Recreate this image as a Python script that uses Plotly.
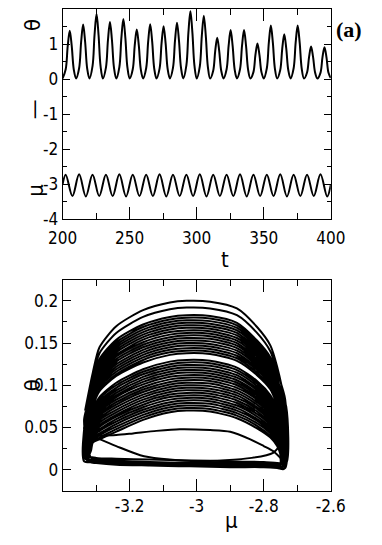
import plotly.graph_objects as go

# ---- top panel: theta(t) and mu(t) ----
CYCLE_STARTS = list(range(200, 400, 10))
THETA_OFFSETS = [0.0, 2.3, 3.8, 5.3, 6.8, 8.3]
# per cycle: trough, rise, rise, peak, fall, fall
THETA_CYCLES = [
    [0.02, 0.28, 0.94, 1.38, 0.94, 0.28],
    [0.02, 0.31, 1.06, 1.56, 1.06, 0.31],
    [0.02, 0.37, 1.26, 1.86, 1.26, 0.37],
    [0.02, 0.33, 1.11, 1.63, 1.11, 0.33],
    [0.02, 0.34, 1.17, 1.72, 1.17, 0.34],
    [0.02, 0.28, 0.97, 1.42, 0.97, 0.28],
    [0.02, 0.31, 1.07, 1.57, 1.07, 0.31],
    [0.02, 0.30, 1.03, 1.51, 1.03, 0.30],
    [0.02, 0.32, 1.09, 1.61, 1.09, 0.32],
    [0.02, 0.39, 1.32, 1.94, 1.32, 0.39],
    [0.02, 0.36, 1.23, 1.81, 1.23, 0.36],
    [0.02, 0.24, 0.80, 1.18, 0.80, 0.24],
    [0.02, 0.28, 0.95, 1.40, 0.95, 0.28],
    [0.02, 0.28, 0.95, 1.40, 0.95, 0.28],
    [0.02, 0.20, 0.69, 1.02, 0.69, 0.20],
    [0.02, 0.31, 1.04, 1.53, 1.04, 0.31],
    [0.02, 0.26, 0.87, 1.28, 0.87, 0.26],
    [0.02, 0.31, 1.04, 1.53, 1.04, 0.31],
    [0.02, 0.19, 0.63, 0.93, 0.63, 0.19],
    [0.02, 0.18, 0.62, 0.91, 0.62, 0.18],
]
THETA_END = (400, 0.03)

MU_START = (200, -3.00)
MU_FIRST_PEAK = 202.3
MU_PEAKS = [-2.73, -2.72, -2.73, -2.73, -2.72, -2.73, -2.73, -2.72, -2.73, -2.73,
            -2.72, -2.73, -2.73, -2.72, -2.73, -2.73, -2.72, -2.73, -2.73, -2.72]
MU_TROUGHS = [-3.34, -3.35, -3.34, -3.34, -3.35, -3.34, -3.34, -3.35, -3.34, -3.34,
              -3.35, -3.34, -3.34, -3.35, -3.34, -3.34, -3.35, -3.34, -3.34, -3.35]
MU_END = (400, -3.02)

# ---- bottom panel: theta vs mu, loop by loop ----
ARC_MU = [-3.31, -3.29, -3.24, -3.16, -3.08, -3.03, -2.96, -2.88, -2.82, -2.78, -2.76]
LEFT_MU = [-3.333, -3.327, -3.322, -3.318, -3.330, -3.324, -3.315, -3.336]
RIGHT_MU = [-2.742, -2.736, -2.748, -2.739, -2.733, -2.745, -2.751, -2.738]
LOOP_ROWS = [
    [0.070, 0.115, 0.145, 0.170, 0.189, 0.198, 0.200, 0.199, 0.191, 0.169, 0.147, 0.122, 0.087],
    [0.067, 0.110, 0.138, 0.162, 0.181, 0.190, 0.192, 0.191, 0.183, 0.162, 0.140, 0.116, 0.083],
    [0.064, 0.104, 0.131, 0.154, 0.172, 0.181, 0.183, 0.182, 0.174, 0.153, 0.133, 0.110, 0.078],
    [0.063, 0.102, 0.128, 0.151, 0.169, 0.178, 0.180, 0.179, 0.171, 0.151, 0.130, 0.108, 0.077],
    [0.062, 0.100, 0.126, 0.148, 0.166, 0.175, 0.177, 0.176, 0.168, 0.148, 0.128, 0.105, 0.075],
    [0.061, 0.098, 0.123, 0.145, 0.163, 0.172, 0.174, 0.173, 0.165, 0.145, 0.125, 0.103, 0.074],
    [0.060, 0.096, 0.121, 0.142, 0.160, 0.169, 0.171, 0.170, 0.162, 0.142, 0.123, 0.101, 0.072],
    [0.059, 0.095, 0.118, 0.139, 0.157, 0.166, 0.168, 0.167, 0.159, 0.140, 0.120, 0.099, 0.070],
    [0.057, 0.093, 0.116, 0.136, 0.154, 0.163, 0.165, 0.164, 0.156, 0.137, 0.118, 0.097, 0.069],
    [0.056, 0.091, 0.113, 0.134, 0.151, 0.160, 0.162, 0.161, 0.153, 0.134, 0.115, 0.095, 0.067],
    [0.055, 0.089, 0.111, 0.131, 0.148, 0.157, 0.159, 0.158, 0.150, 0.131, 0.113, 0.093, 0.066],
    [0.054, 0.087, 0.108, 0.128, 0.145, 0.154, 0.156, 0.155, 0.147, 0.129, 0.110, 0.090, 0.064],
    [0.053, 0.085, 0.106, 0.125, 0.142, 0.151, 0.153, 0.152, 0.144, 0.126, 0.108, 0.088, 0.063],
    [0.052, 0.083, 0.103, 0.122, 0.139, 0.148, 0.150, 0.149, 0.141, 0.123, 0.105, 0.086, 0.061],
    [0.051, 0.081, 0.101, 0.119, 0.136, 0.145, 0.147, 0.146, 0.138, 0.120, 0.103, 0.084, 0.059],
    [0.050, 0.079, 0.098, 0.116, 0.133, 0.142, 0.144, 0.143, 0.135, 0.118, 0.100, 0.082, 0.058],
    [0.049, 0.077, 0.095, 0.113, 0.130, 0.139, 0.141, 0.140, 0.132, 0.115, 0.097, 0.080, 0.056],
    [0.048, 0.075, 0.093, 0.111, 0.127, 0.136, 0.138, 0.137, 0.129, 0.112, 0.095, 0.077, 0.055],
    [0.045, 0.070, 0.086, 0.103, 0.119, 0.128, 0.130, 0.129, 0.121, 0.105, 0.088, 0.072, 0.051],
    [0.044, 0.068, 0.084, 0.100, 0.116, 0.125, 0.127, 0.126, 0.118, 0.102, 0.086, 0.069, 0.049],
    [0.043, 0.066, 0.081, 0.097, 0.113, 0.122, 0.124, 0.123, 0.115, 0.099, 0.083, 0.067, 0.048],
    [0.042, 0.064, 0.079, 0.094, 0.110, 0.119, 0.121, 0.120, 0.112, 0.096, 0.081, 0.065, 0.046],
    [0.041, 0.063, 0.076, 0.091, 0.107, 0.116, 0.118, 0.117, 0.109, 0.094, 0.078, 0.063, 0.044],
    [0.039, 0.061, 0.074, 0.088, 0.104, 0.113, 0.115, 0.114, 0.106, 0.091, 0.076, 0.061, 0.043],
    [0.038, 0.059, 0.071, 0.086, 0.101, 0.110, 0.112, 0.111, 0.103, 0.088, 0.073, 0.059, 0.041],
    [0.037, 0.057, 0.069, 0.083, 0.098, 0.107, 0.109, 0.108, 0.100, 0.085, 0.071, 0.057, 0.040],
    [0.036, 0.055, 0.066, 0.080, 0.095, 0.104, 0.106, 0.105, 0.097, 0.083, 0.068, 0.054, 0.038],
    [0.035, 0.053, 0.064, 0.077, 0.092, 0.101, 0.103, 0.102, 0.094, 0.080, 0.066, 0.052, 0.037],
    [0.034, 0.051, 0.061, 0.074, 0.089, 0.098, 0.100, 0.099, 0.091, 0.077, 0.063, 0.050, 0.035],
    [0.033, 0.049, 0.059, 0.071, 0.086, 0.095, 0.097, 0.096, 0.088, 0.074, 0.061, 0.048, 0.033],
    [0.032, 0.047, 0.056, 0.068, 0.083, 0.092, 0.094, 0.093, 0.085, 0.072, 0.058, 0.046, 0.032],
    [0.031, 0.045, 0.053, 0.065, 0.080, 0.089, 0.091, 0.090, 0.082, 0.069, 0.055, 0.044, 0.030],
    [0.030, 0.043, 0.051, 0.063, 0.077, 0.086, 0.088, 0.087, 0.079, 0.066, 0.053, 0.041, 0.029],
    [0.029, 0.041, 0.048, 0.060, 0.074, 0.083, 0.085, 0.084, 0.076, 0.063, 0.050, 0.039, 0.027],
    [0.028, 0.040, 0.046, 0.057, 0.071, 0.080, 0.082, 0.081, 0.073, 0.060, 0.048, 0.037, 0.026],
    [0.026, 0.038, 0.043, 0.054, 0.068, 0.077, 0.079, 0.078, 0.070, 0.058, 0.045, 0.035, 0.024],
    [0.025, 0.036, 0.041, 0.051, 0.065, 0.074, 0.076, 0.075, 0.067, 0.055, 0.043, 0.033, 0.023],
    [0.024, 0.034, 0.038, 0.048, 0.062, 0.071, 0.073, 0.072, 0.064, 0.052, 0.040, 0.031, 0.021],
    [0.023, 0.032, 0.036, 0.045, 0.059, 0.068, 0.070, 0.069, 0.061, 0.049, 0.038, 0.028, 0.019],
]
# return path along the bottom, right -> left (first value at right edge, last at left edge)
BOTTOM_MU = [-2.76, -2.80, -2.90, -3.02, -3.14, -3.24, -3.30]
BOTTOM_ROWS = [
    [0.004, 0.004, 0.005, 0.006, 0.006, 0.007, 0.009, 0.011, 0.013],
    [0.002, 0.003, 0.004, 0.004, 0.005, 0.006, 0.007, 0.009, 0.011],
    [0.006, 0.006, 0.007, 0.008, 0.008, 0.009, 0.011, 0.013, 0.016],
    [0.001, 0.002, 0.003, 0.003, 0.004, 0.005, 0.006, 0.008, 0.009],
    [0.008, 0.008, 0.009, 0.010, 0.011, 0.012, 0.013, 0.014, 0.017],
    [0.003, 0.004, 0.005, 0.005, 0.006, 0.007, 0.008, 0.010, 0.012],
    [0.005, 0.005, 0.006, 0.007, 0.007, 0.008, 0.010, 0.012, 0.014],
    [0.002, 0.003, 0.003, 0.004, 0.004, 0.005, 0.007, 0.009, 0.010],
]
# the single low loop and its raised return path
LONE_MU = [-3.30, -3.24, -3.19, -3.12, -3.05, -2.96, -2.90, -2.84, -2.80, -2.772, -2.745]
LONE_TH = [0.040, 0.041, 0.043, 0.046, 0.048, 0.047, 0.045, 0.036, 0.028, 0.022, 0.012]
RAISED_MU = [-2.745, -2.772, -2.836, -3.00, -3.157, -3.24, -3.30]
RAISED_TH = [0.032, 0.020, 0.014, 0.010, 0.016, 0.028, 0.038]

TOP_Y_TICKS = [-4, -3, -2, -1, 0, 1, 2]
TOP_Y_TEXT = ["-4", "-3", "-2", "-1", "0", "1", "2"]
T_TICKS = [200, 250, 300, 350, 400]
MU_TICKS = [-3.4, -3.2, -3.0, -2.8, -2.6]
MU_TEXT = ["", "-3.2", "-3", "-2.8", "-2.6"]
TH_TICKS = [0, 0.05, 0.1, 0.15, 0.2]
TH_TEXT = ["0", "0.05", "0.1", "0.15", "0.2"]

# ---- assemble the series ----
theta_t, theta_v = [], []
for start, row in zip(CYCLE_STARTS, THETA_CYCLES):
    for off, v in zip(THETA_OFFSETS, row):
        theta_t.append(start + off)
        theta_v.append(v)
theta_t.append(THETA_END[0])
theta_v.append(THETA_END[1])

mu_t, mu_v = [MU_START[0]], [MU_START[1]]
for k, (pk, tr) in enumerate(zip(MU_PEAKS, MU_TROUGHS)):
    mu_t += [MU_FIRST_PEAK + 10 * k, MU_FIRST_PEAK + 10 * k + 5]
    mu_v += [pk, tr]
mu_t.append(MU_END[0])
mu_v.append(MU_END[1])

ph_mu, ph_th = [], []
for i, row in enumerate(LOOP_ROWS):
    left, right = LEFT_MU[i % 8], RIGHT_MU[i % 8]
    ph_mu += [left] + ARC_MU + [right] + [right] + BOTTOM_MU + [left]
    ph_th += row + BOTTOM_ROWS[i % 8]
ph_mu += [None] + LONE_MU + [None] + RAISED_MU
ph_th += [None] + LONE_TH + [None] + RAISED_TH

FONT_FAMILY = ("Liberation Sans Narrow, DejaVu Sans Condensed, Roboto Condensed, "
               "Arial Narrow, Liberation Sans, sans-serif")
TICK_FONT = dict(family=FONT_FAMILY, size=17, color="black")
AX = dict(showline=True, linecolor="black", linewidth=1, mirror="ticks",
          ticks="inside", tickcolor="black", showgrid=False, zeroline=False,
          tickfont=TICK_FONT, tickmode="array")

fig = go.Figure()
fig.add_trace(go.Scatter(x=theta_t, y=theta_v, mode="lines",
                         line=dict(color="black", width=2, shape="spline", smoothing=1),
                         xaxis="x", yaxis="y", showlegend=False, hoverinfo="skip"))
fig.add_trace(go.Scatter(x=mu_t, y=mu_v, mode="lines",
                         line=dict(color="black", width=2, shape="spline", smoothing=1),
                         xaxis="x", yaxis="y", showlegend=False, hoverinfo="skip"))
fig.add_trace(go.Scatter(x=ph_mu, y=ph_th, mode="lines",
                         line=dict(color="black", width=2, shape="spline", smoothing=0.7),
                         xaxis="x2", yaxis="y2", showlegend=False, hoverinfo="skip"))

fig.update_layout(
    width=382, height=545, autosize=False,
    paper_bgcolor="white", plot_bgcolor="white",
    margin=dict(l=0, r=0, t=0, b=0),
    font=dict(family=FONT_FAMILY, color="black"),
    xaxis=dict(AX, domain=[0.1353, 0.8971], anchor="y", range=[200, 400],
               tickvals=T_TICKS, ticktext=[str(v) for v in T_TICKS], ticklen=12,
               ticklabelstandoff=3,
               minor=dict(tickvals=[225, 275, 325, 375], ticklen=6, ticks="inside",
                          tickcolor="black")),
    yaxis=dict(AX, domain=[0.5903, 0.983], anchor="x", range=[-4, 2],
               tickvals=TOP_Y_TICKS, ticktext=TOP_Y_TEXT, ticklen=7,
               minor=dict(tickvals=[-3.5, -2.5, -1.5, -0.5, 0.5, 1.5], ticklen=4,
                          ticks="inside", tickcolor="black")),
    xaxis2=dict(AX, domain=[0.1353, 0.8971], anchor="y2", range=[-3.4, -2.6],
                tickvals=MU_TICKS, ticktext=MU_TEXT, ticklen=12,
                minor=dict(tickvals=[-3.3, -3.1, -2.9, -2.7], ticklen=6, ticks="inside",
                           tickcolor="black")),
    yaxis2=dict(AX, domain=[0.0826, 0.4771], anchor="x2", range=[-0.025, 0.225],
                tickvals=TH_TICKS, ticktext=TH_TEXT, ticklen=8,
                minor=dict(tickvals=[0.025, 0.075, 0.125, 0.175], ticklen=4,
                           ticks="inside", tickcolor="black")),
)

LABEL_FONT = dict(family=FONT_FAMILY, size=22, color="black")
labels = [
    ("θ", 19, 26, -90), ("—", 21, 111, -90), ("μ", 22, 194, -90),
    ("t", 228, 264, 0), ("θ", 19, 393, -90), ("μ", 235, 530, 0),
]
for text, px, py, ang in labels:
    fig.add_annotation(text=text, x=px / 382, y=1 - py / 545, xref="paper", yref="paper",
                       showarrow=False, textangle=ang, font=LABEL_FONT,
                       xanchor="center", yanchor="middle")
fig.add_annotation(text="<b>(a)</b>", x=362 / 382, y=1 - 30 / 545, xref="paper", yref="paper",
                   showarrow=False, xanchor="center", yanchor="middle",
                   font=dict(family="Liberation Serif, serif", size=22, color="black"))

fig.write_html("out.html", config={"displayModeBar": False},
               post_script="document.body.style.margin='0';")
